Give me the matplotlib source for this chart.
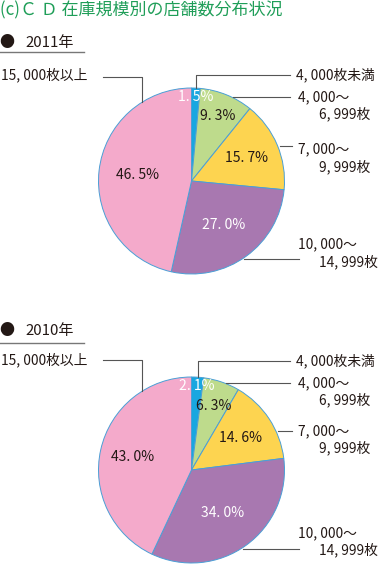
import numpy as np
import matplotlib
matplotlib.use("Agg")
import matplotlib.pyplot as plt
from matplotlib.lines import Line2D

plt.rcParams['font.family'] = ['Noto Sans CJK JP', 'DejaVu Sans']

# ---- data ----
categories = ["4, 000枚未満", "4, 000～\n6, 999枚", "7, 000～\n9, 999枚", "10, 000～\n14, 999枚", "15, 000枚以上"]
years = ["2011年", "2010年"]
shares_2011 = [1.5, 9.3, 15.7, 27.0, 46.5]
shares_2010 = [2.1, 6.3, 14.6, 34.0, 43.0]
title = "(c)Ｃ Ｄ 在庫規模別の店舗数分布状況"

colors = ["#18a7e0", "#bedb8c", "#fdd450", "#a878b0", "#f4aacb"]
pct_colors = ["white", "#231815", "#231815", "white", "#231815"]
edge = "#4a9fd6"
txt = "#231815"
lead = "#555555"

W, H = 380, 564
fig = plt.figure(figsize=(W / 100, H / 100), dpi=100)

def P(x, y):
    return x / W, 1 - y / H

def px(s):  # pixel size -> points
    return s * 72 / 100

def fline(xs, ys, color=lead, lw=0.8):
    fx = [x / W for x in xs]
    fy = [1 - y / H for y in ys]
    fig.add_artist(Line2D(fx, fy, transform=fig.transFigure, color=color, lw=lw))

# title
fig.text(*P(0, 10), title, color="#1f9e58", fontsize=px(17), va="center", ha="left")

# layouts per pie
R = 93
layouts = [
    dict(cx=191.5, cy=181, head_y=43, ul_y=52.3,
         pct_r=[0.90, 0.76, 0.64, 0.58, 0.58],
         lab_y=[75, (97, 114), (149, 166.5), (244, 261.5), 75],
         lead_y=[75, 97, 146, 259, 77]),
    dict(cx=191.5, cy=470, head_y=331.5, ul_y=342.7,
         pct_r=[0.90, 0.73, 0.63, 0.57, 0.65],
         lab_y=[360.5, (383.3, 400), (431.7, 448.3), (533.3, 550), 360],
         lead_y=[360.5, 383, 431, 549, 360]),
]

for vals, year, L in zip([shares_2011, shares_2010], years, layouts):
    cx, cy = L["cx"], L["cy"]
    # header
    fig.text(*P(-1, L["head_y"]), "●", color="#231815", fontsize=px(15), va="center", ha="left")
    fig.text(*P(25, L["head_y"]), year, color=txt, fontsize=px(15), va="center", ha="left")
    fline([0, 84], [L["ul_y"], L["ul_y"]], color="#777777", lw=1.0)

    ax = fig.add_axes([(cx - R) / W, 1 - (cy + R) / H, 2 * R / W, 2 * R / H])
    ax.axis("off")
    wedges, _ = ax.pie(vals, colors=colors, startangle=90, counterclock=False, radius=1,
                       wedgeprops=dict(edgecolor=edge, linewidth=0.7))
    ax.set_xlim(-1, 1)
    ax.set_ylim(-1, 1)
    ax.set_aspect("auto")

    cum = np.cumsum([0] + vals)
    for i, v in enumerate(vals):
        mid = np.deg2rad(90 - (cum[i] + v / 2) * 3.6)
        r = L["pct_r"][i]
        ax.text(r * np.cos(mid), r * np.sin(mid), f"{v:.1f}%".replace(".", ". "),
                color=pct_colors[i], fontsize=px(14), ha="center", va="center")

    # leader lines
    # blue: vertical from slice midpoint on the rim up to label row
    mid0 = np.deg2rad(90 - (vals[0] / 2) * 3.6)
    x0 = cx + R * np.cos(mid0)
    y0 = cy - R * np.sin(mid0)
    fline([x0, x0, 290], [y0, L["lead_y"][0], L["lead_y"][0]])
    # green / yellow / purple: horizontal from rim
    ends = [None, 290, 292, 299]
    for i in (1, 2, 3):
        ly = L["lead_y"][i]
        dy = cy - ly
        xs = cx + np.sqrt(max(R ** 2 - dy ** 2, 0))
        fline([xs + 2, ends[i]], [ly, ly])
    # pink: vertical from rim, then to the left
    xp = 142
    yp = cy - np.sqrt(R ** 2 - (xp - cx) ** 2)
    fline([xp, xp, 103], [yp, L["lead_y"][4], L["lead_y"][4]])

    # category labels
    fs = px(13.8)
    fig.text(*P(296, L["lab_y"][0]), categories[0], color=txt, fontsize=fs, va="center", ha="left")
    for i in (1, 2, 3):
        l1, l2 = categories[i].split("\n")
        y1, y2 = L["lab_y"][i]
        fig.text(*P(298, y1), l1, color=txt, fontsize=fs, va="center", ha="left")
        fig.text(*P(319, y2), l2, color=txt, fontsize=fs, va="center", ha="left")
    fig.text(*P(1, L["lab_y"][4]), categories[4], color=txt, fontsize=fs, va="center", ha="left")

fig.savefig("out.png", dpi=100)
